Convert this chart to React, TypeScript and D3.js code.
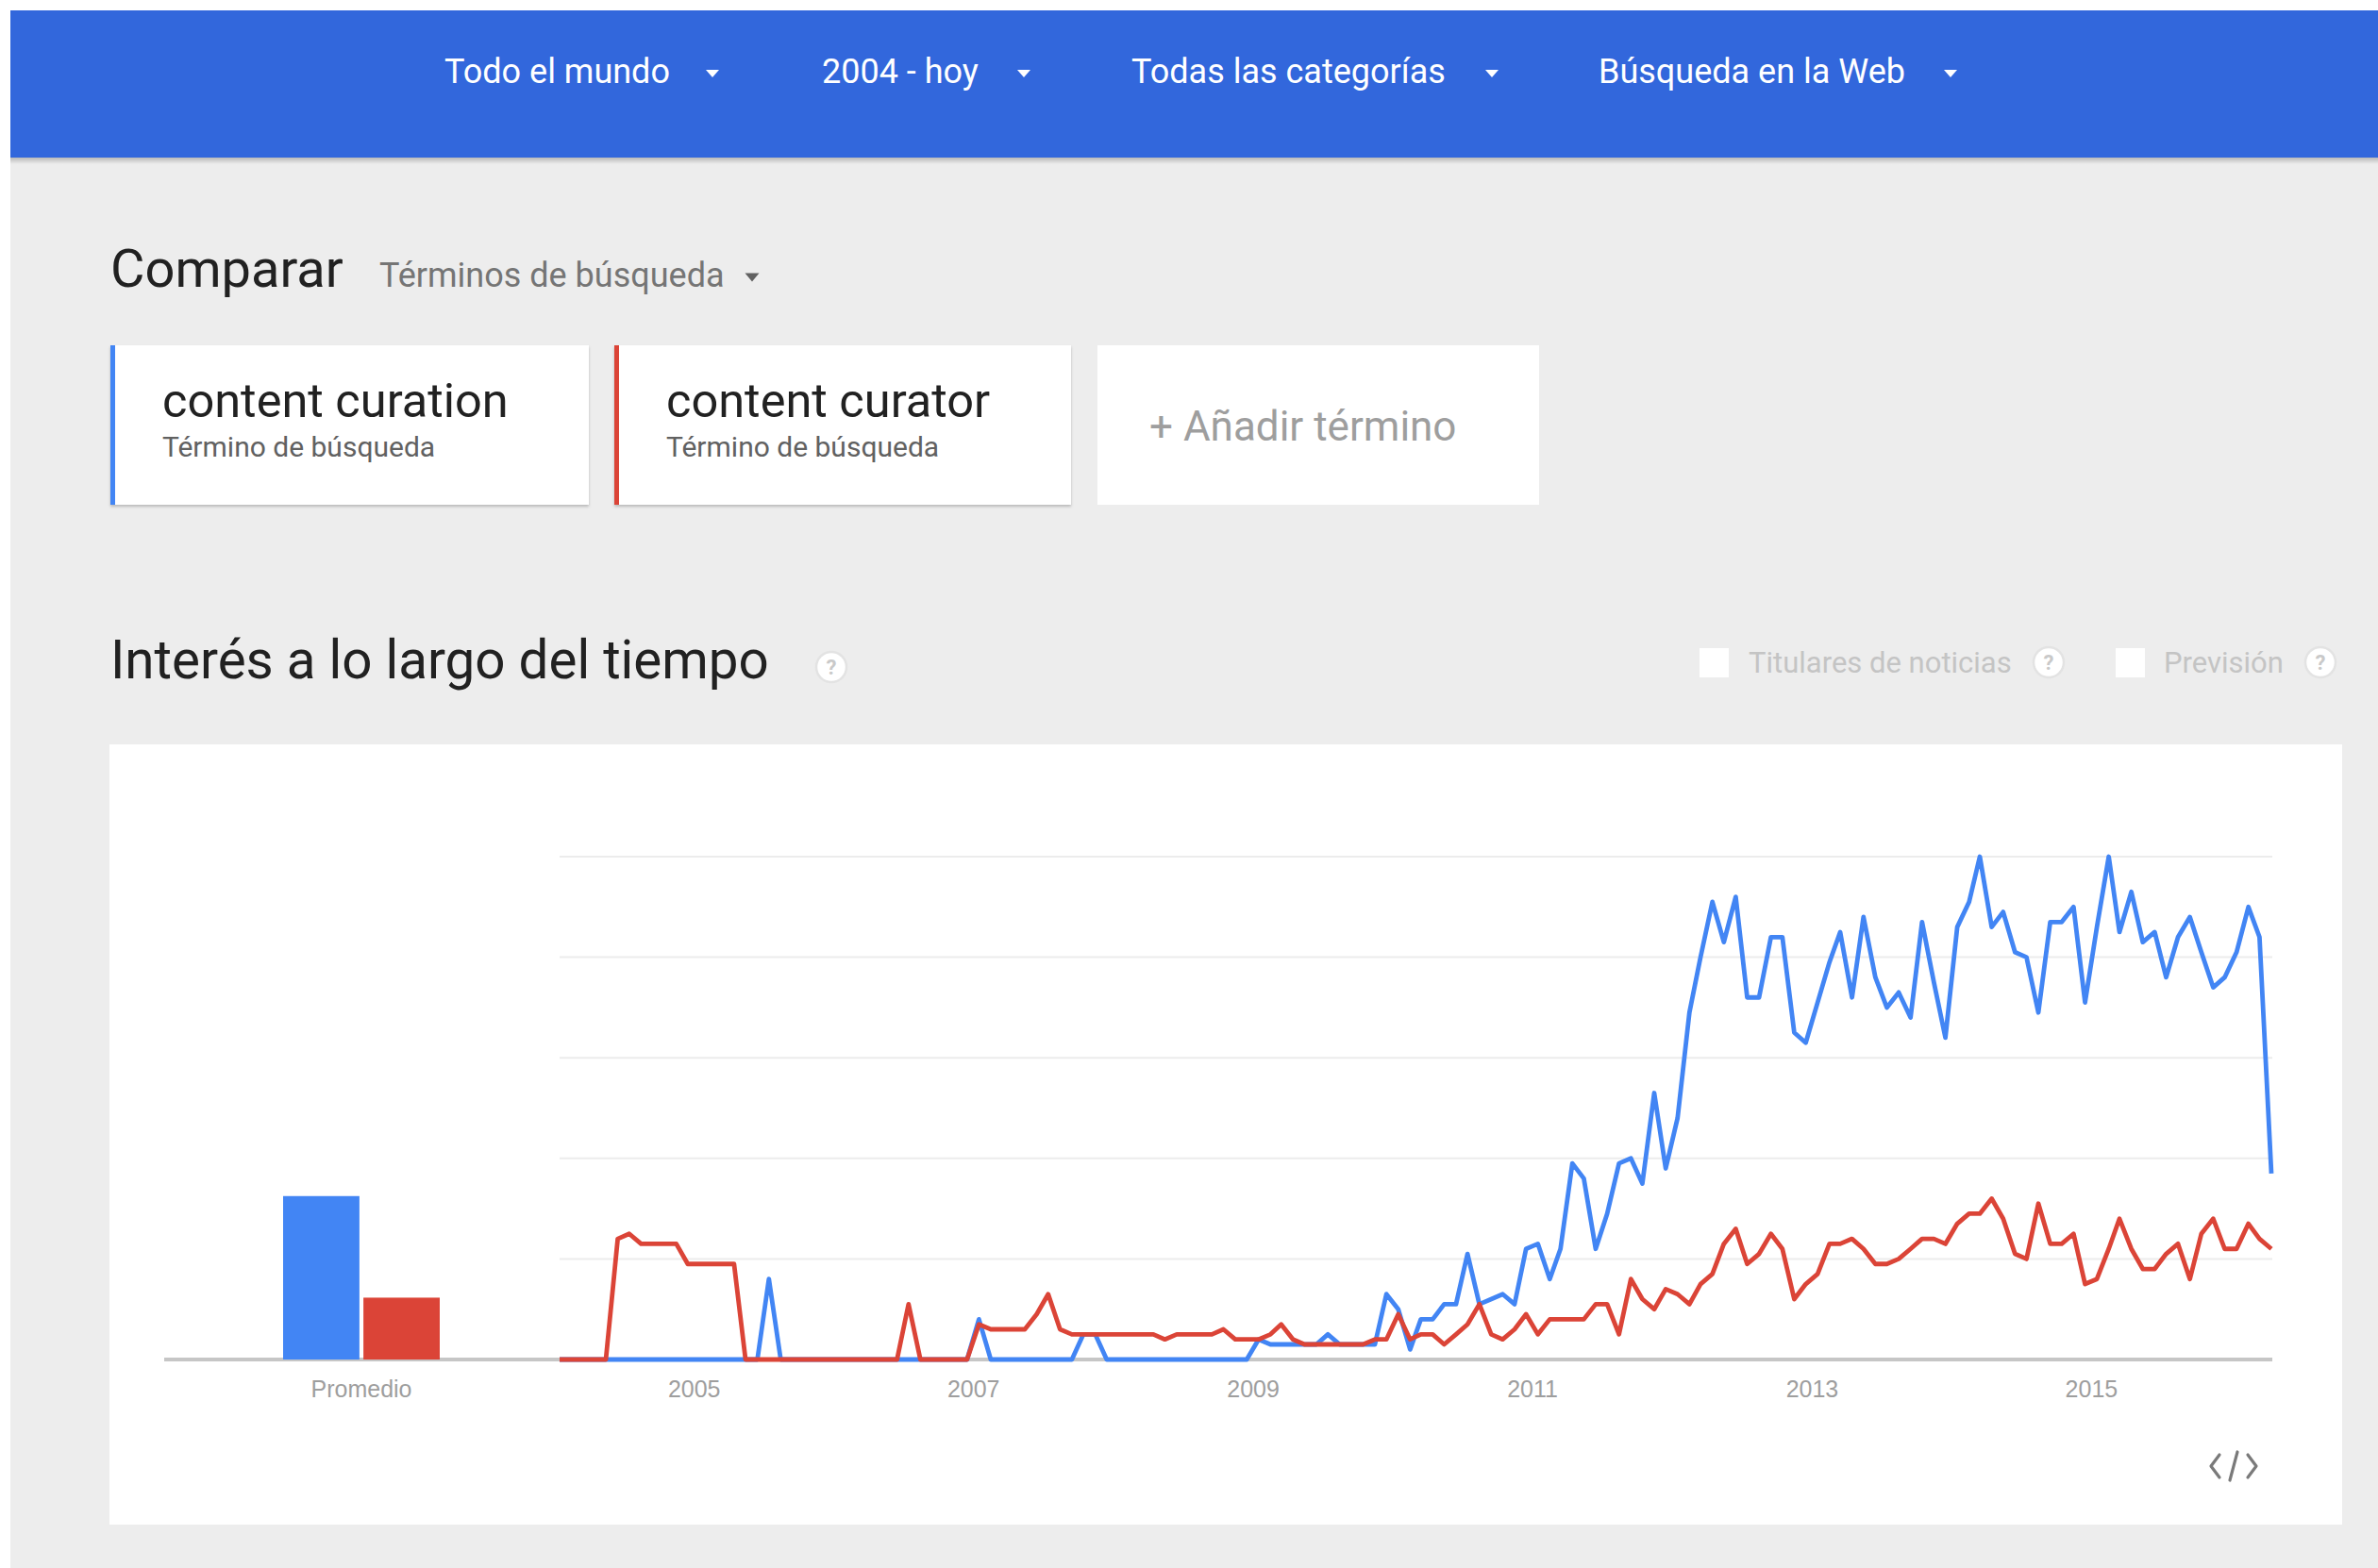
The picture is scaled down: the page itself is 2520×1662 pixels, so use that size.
import React from 'react';
import * as d3 from 'd3';

const terms = ['content curation', 'content curator'];
const seriesColors = ['#4285f4', '#db4437'];
const averages = [32.5, 12.3];

// monthly values Jan 2004 .. Apr 2016
const curation = [
  0,0,0,0,0,0,0,0,0,0,0,0,0,0,0,0,0,0,
  16,
  0,0,0,0,0,0,0,0,0,0,0,0,0,0,0,0,0,
  8,
  0,0,0,0,0,0,0,0,
  5,5,
  0,0,0,0,0,0,0,0,0,0,0,0,0,
  4,3,3,3,3,3,5,3,3,3,3,
  13,10,2,8,8,11,11,21,11,12,13,11,22,23,16,22,39,36,22,29,39,40,35,53,38,48,69,
  80,91,83,92,72,72,84,84,65,63,71,79,85,72,88,76,70,73,68,87,75,64,86,91,100,
  86,89,81,80,69,87,87,90,71,86,100,85,93,83,85,76,84,88,81,74,76,81,90,84,37,
];
const curator = [
  0,0,0,0,0,
  24,25,23,23,23,23,19,19,19,19,19,
  0,0,0,0,0,0,0,0,0,0,0,0,0,0,
  11,
  0,0,0,0,0,
  7,6,6,6,6,9,13,6,
  5,5,5,5,5,5,5,5,
  4,5,5,5,5,6,4,4,4,5,7,4,
  3,3,3,3,3,3,4,4,
  9,4,5,5,3,5,7,11,5,4,6,9,5,8,8,8,8,11,11,5,16,12,10,14,13,
  11,15,17,23,26,19,21,25,22,12,15,17,23,23,24,22,19,19,20,22,24,24,23,27,29,29,
  32,28,21,20,31,23,23,25,15,16,22,28,22,18,18,21,23,16,25,28,22,22,27,24,22,
];
const yearTicks = [2005, 2007, 2009, 2011, 2013, 2015];
const gridValues = [20, 40, 60, 80, 100];
const headerItems = ['Todo el mundo', '2004 - hoy', 'Todas las categorías', 'Búsqueda en la Web'];

const ROBOTO = 'Roboto, "Noto Sans", sans-serif';
const ARIAL = '"Liberation Sans", Arial, sans-serif';

function Tri({ cx, cy, w, h, fill }: { cx: number; cy: number; w: number; h: number; fill: string }) {
  return <path d={`M${cx - w / 2},${cy - h / 2}L${cx + w / 2},${cy - h / 2}L${cx},${cy + h / 2}Z`} fill={fill} />;
}

function Help({ cx, cy }: { cx: number; cy: number }) {
  return (
    <g>
      <circle cx={cx} cy={cy} r={16} fill="#ffffff" stroke="#e3e3e3" strokeWidth={2.5} />
      <text x={cx} y={cy + 8} textAnchor="middle" fontFamily={ROBOTO} fontSize={22} fontWeight={700} fill="#c9c9c9">?</text>
    </g>
  );
}

export default function App() {
  const W = 2520, H = 1662;
  const dates = curation.map((_, i) => new Date(2004, i, 15));
  const x = d3.scaleTime().domain([dates[0], dates[dates.length - 1]]).range([593, 2407]);
  const y = d3.scaleLinear().domain([0, 100]).range([1441, 908]);
  const xb = d3.scaleBand<string>().domain(terms).range([300, 466]).paddingInner(0.05);
  const line = d3.line<number>().x((_, i) => x(dates[i])).y((d) => y(d)).curve(d3.curveLinear);

  const headerX = [471, 871, 1199, 1694];
  const headerArrow = [755, 1085, 1581, 2067];

  const cards = [
    { x: 117, w: 507, color: seriesColors[0], title: terms[0] },
    { x: 651, w: 484, color: seriesColors[1], title: terms[1] },
  ];

  return (
    <svg width={W} height={H} viewBox={`0 0 ${W} ${H}`} style={{ position: 'absolute', left: 0, top: 0, display: 'block' }}>
      <defs>
        <filter id="cardShadow" x="-5%" y="-5%" width="110%" height="120%">
          <feDropShadow dx="0" dy="2" stdDeviation="1.6" floodColor="#000" floodOpacity="0.22" />
        </filter>
        <linearGradient id="hdrShadow" x1="0" y1="0" x2="0" y2="1">
          <stop offset="0" stopColor="#000" stopOpacity="0.22" />
          <stop offset="1" stopColor="#000" stopOpacity="0" />
        </linearGradient>
      </defs>
      <rect x={0} y={0} width={W} height={H} fill="#ffffff" />
      <rect x={11} y={11} width={W - 11} height={H - 11} fill="#ededed" />

      {/* header */}
      <rect x={11} y={11} width={W - 11} height={156} fill="#3267dc" />
      <rect x={11} y={167} width={W - 11} height={7} fill="url(#hdrShadow)" />
      {headerItems.map((t, i) => (
        <g key={t}>
          <text x={headerX[i]} y={88} fontFamily={ROBOTO} fontSize={36} fill="#ffffff">{t}</text>
          <Tri cx={headerArrow[i]} cy={78} w={14} h={8} fill="#ffffff" />
        </g>
      ))}

      {/* compare */}
      <text x={117} y={304} fontFamily={ROBOTO} fontSize={56} fill="#212121">Comparar</text>
      <text x={402} y={304} fontFamily={ROBOTO} fontSize={36} fill="#757575">Términos de búsqueda</text>
      <Tri cx={797} cy={294} w={15} h={9} fill="#616161" />

      {cards.map((c) => (
        <g key={c.title}>
          <rect x={c.x} y={366} width={c.w} height={169} fill="#ffffff" filter="url(#cardShadow)" />
          <rect x={c.x} y={366} width={5} height={169} fill={c.color} />
          <text x={c.x + 55} y={442} fontFamily={ROBOTO} fontSize={50.5} fill="#212121">{c.title}</text>
          <text x={c.x + 55} y={484} fontFamily={ROBOTO} fontSize={30} fill="#616161">Término de búsqueda</text>
        </g>
      ))}
      <rect x={1163} y={366} width={468} height={169} fill="#ffffff" />
      <text x={1218} y={467} fontFamily={ROBOTO} fontSize={44} fill="#9e9e9e">+ Añadir término</text>

      {/* interest over time */}
      <text x={117} y={719} fontFamily={ROBOTO} fontSize={56.5} fill="#212121">Interés a lo largo del tiempo</text>
      <Help cx={881} cy={707} />
      <rect x={1801} y={687} width={31} height={31} fill="#ffffff" />
      <text x={1853} y={713} fontFamily={ROBOTO} fontSize={31} fill="#c4c4c4">Titulares de noticias</text>
      <Help cx={2171} cy={702} />
      <rect x={2242} y={687} width={31} height={31} fill="#ffffff" />
      <text x={2293} y={713} fontFamily={ROBOTO} fontSize={31} fill="#c4c4c4">Previsión</text>
      <Help cx={2459} cy={702} />

      {/* chart panel */}
      <rect x={116} y={789} width={2366} height={827} fill="#ffffff" />
      {gridValues.map((v) => (
        <line key={v} x1={x.range()[0]} x2={2408} y1={y(v)} y2={y(v)} stroke="#ececec" strokeWidth={2} />
      ))}
      <line x1={174} x2={2408} y1={y(0)} y2={y(0)} stroke="#c6c6c6" strokeWidth={4} />

      {terms.map((t, i) => (
        <rect key={t} x={xb(t)} y={y(averages[i])} width={xb.bandwidth()} height={y(0) - y(averages[i])} fill={seriesColors[i]} />
      ))}
      <text x={(xb.range()[0] + xb.range()[1]) / 2} y={1481} textAnchor="middle" fontFamily={ARIAL} fontSize={25} fill="#9e9e9e">Promedio</text>

      <path d={line(curation) || ''} fill="none" stroke={seriesColors[0]} strokeWidth={4.8} strokeLinejoin="round" />
      <path d={line(curator) || ''} fill="none" stroke={seriesColors[1]} strokeWidth={4.8} strokeLinejoin="round" />

      {yearTicks.map((yr) => (
        <text key={yr} x={x(new Date(yr, 0, 1))} y={1481} textAnchor="middle" fontFamily={ARIAL} fontSize={25} fill="#9e9e9e">{yr}</text>
      ))}

      <g stroke="#7a7a7a" strokeWidth={3.2} fill="none" strokeLinecap="round" strokeLinejoin="round">
        <path d="M2352,1542L2343,1554L2352,1566" />
        <path d="M2371,1539L2363,1569" />
        <path d="M2382,1542L2391,1554L2382,1566" />
      </g>
    </svg>
  );
}
